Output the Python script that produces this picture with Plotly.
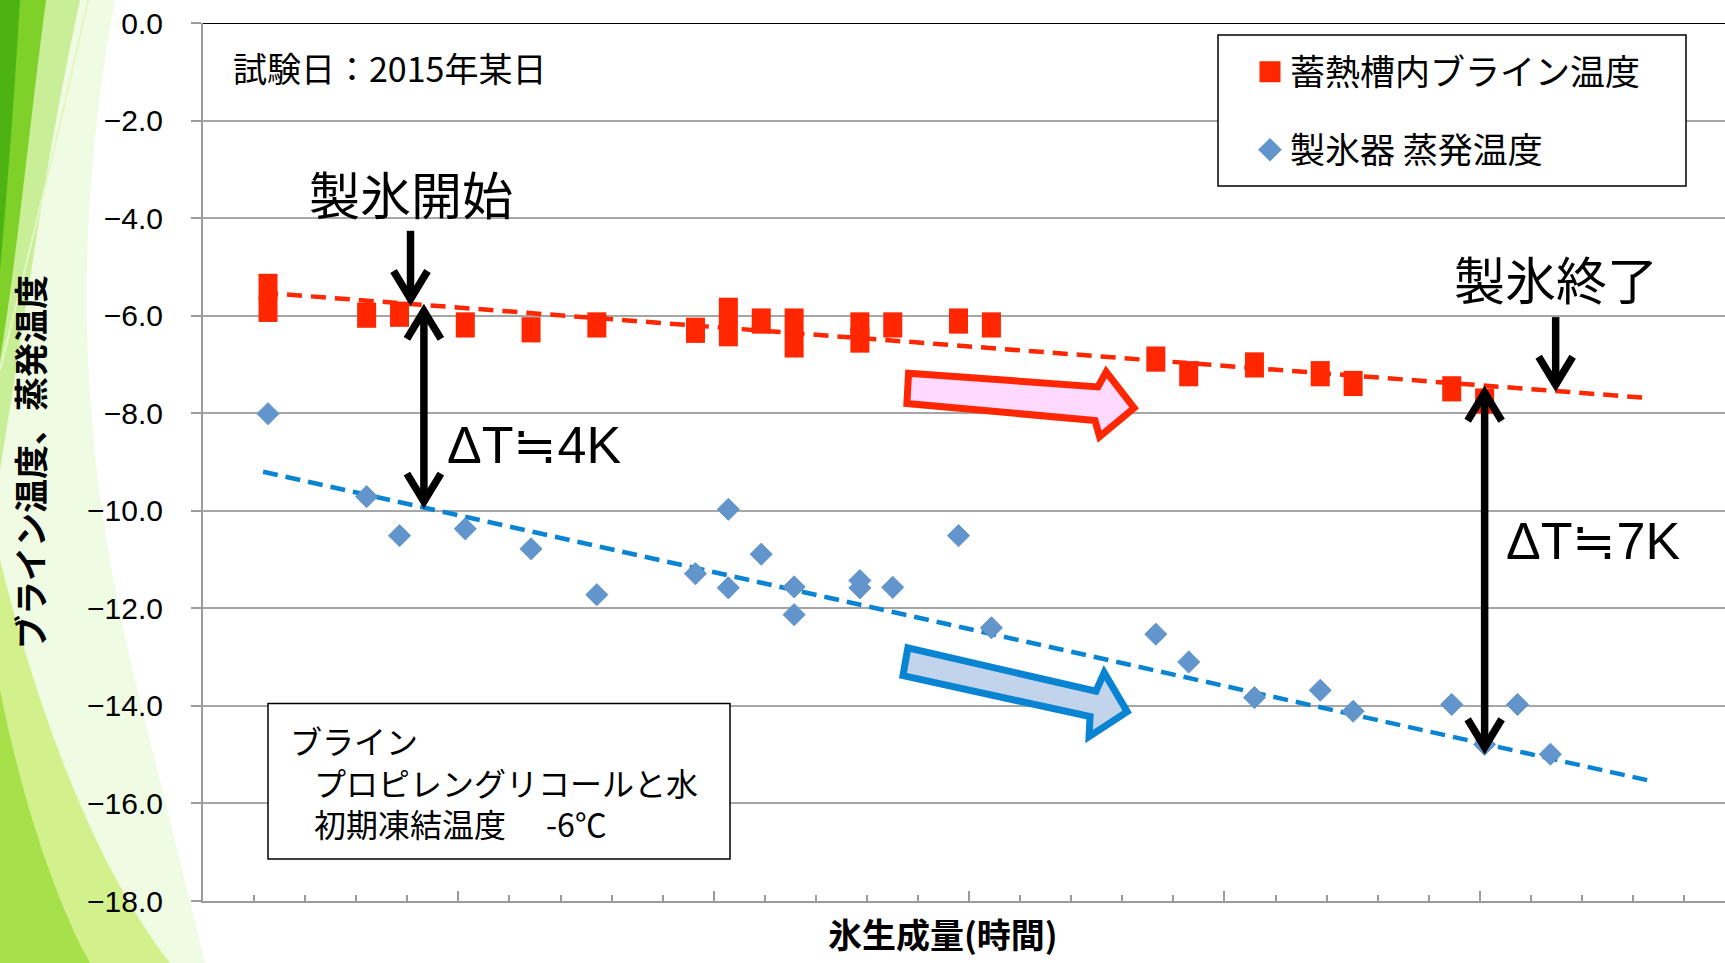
import plotly.graph_objects as go

# ---- data -------------------------------------------------------------
# x: logging step index along the ice-making run
brine_x = [0, 0, 3, 4, 6, 8, 10, 13, 14, 14, 15, 16, 16, 18, 18, 19, 21, 22,
           27, 28, 30, 32, 33, 36, 37]
brine_temp = [-5.40, -5.87, -5.99, -5.97, -6.19, -6.29, -6.19, -6.30, -5.89,
              -6.37, -6.11, -6.11, -6.60, -6.19, -6.50, -6.19, -6.11, -6.19,
              -6.89, -7.19, -7.01, -7.19, -7.39, -7.50, -7.75]

evap_x = [0, 3, 4, 6, 8, 10, 13, 14, 14, 15, 16, 16, 18, 18, 19, 21, 22,
          27, 28, 30, 32, 33, 36, 37, 38, 39]
evap_temp = [-8.01, -9.71, -10.51, -10.37, -10.78, -11.72, -11.29, -9.97,
             -11.58, -10.89, -11.56, -12.13, -11.43, -11.58, -11.57, -10.51,
             -12.40, -12.53, -13.10, -13.83, -13.68, -14.11, -13.97, -14.79,
             -13.97, -14.99]

# linear trend lines (end points)
trend_x = [-0.15, 42.0]
brine_trend = [-5.53, -7.69]
evap_trend = [-9.20, -15.53]

y_ticks = [0, -2, -4, -6, -8, -10, -12, -14, -16, -18]

brine_name = "蓄熱槽内ブライン温度"
evap_name = "製氷器 蒸発温度"

# ---- layout constants -------------------------------------------------
W, H = 1725, 963
ML, MR, MT, MB = 203, 0, 23, 62
X_RANGE = [-1.977, 44.31]
Y_RANGE = [-18, 0]
MINOR_STEP = 1.5532           # minor tick spacing in step units
PLOT_W = W - ML - MR
PLOT_H = H - MT - MB
DX = (X_RANGE[1] - X_RANGE[0]) / PLOT_W   # data units per pixel (x)
DY = (Y_RANGE[1] - Y_RANGE[0]) / PLOT_H   # data units per pixel (y)

RED = "#ff2600"
BLUE_MK = "#6195cb"
BLUE_LN = "#0984d3"
GRID = "#a6a6a6"
AXIS = "#9b9b9b"
CJK = "Noto Sans CJK JP"
LAT = "Liberation Sans, Noto Sans CJK JP"


def paper(px, py):
    return (px - ML) / PLOT_W, 1 - (py - MT) / PLOT_H


def paper_path(cmds):
    out = []
    for c, pts in cmds:
        coords = " ".join("%.5f,%.5f" % paper(*p) for p in pts)
        out.append(c + coords)
    return " ".join(out) + " Z"


fig = go.Figure()

# ---- trend lines ------------------------------------------------------
fig.add_trace(go.Scatter(x=trend_x, y=brine_trend, mode="lines",
                         line=dict(color=RED, width=4.5, dash="15px,9px"),
                         showlegend=False, hoverinfo="skip"))
fig.add_trace(go.Scatter(x=trend_x, y=evap_trend, mode="lines",
                         line=dict(color=BLUE_LN, width=4.5, dash="15px,8px"),
                         showlegend=False, hoverinfo="skip"))

# ---- measured points --------------------------------------------------
# brine readings drawn as upright blocks (vertical bar symbol, thick stroke)
fig.add_trace(go.Scatter(x=brine_x, y=brine_temp, mode="markers", name=brine_name,
                         legendgroup="brine", showlegend=False,
                         marker=dict(symbol="line-ns", size=18, color=RED,
                                     line=dict(color=RED, width=19))))
fig.add_trace(go.Scatter(x=evap_x, y=evap_temp, mode="markers", name=evap_name,
                         legendgroup="evap", showlegend=False,
                         marker=dict(symbol="diamond", size=17, color=BLUE_MK,
                                     line=dict(color=BLUE_MK, width=1))))

# legend entries
fig.add_trace(go.Scatter(x=[None], y=[None], mode="markers", name=brine_name,
                         legendgroup="brine", legend="legend",
                         marker=dict(symbol="square", size=16, color=RED,
                                     line=dict(color=RED, width=5))))
fig.add_trace(go.Scatter(x=[None], y=[None], mode="markers", name=evap_name,
                         legendgroup="evap", legend="legend2",
                         marker=dict(symbol="diamond", size=16, color=BLUE_MK,
                                     line=dict(color=BLUE_MK, width=2))))

shapes = []

# ---- left-side green backdrop ----------------------------------------
bg_layers = [
    ("#f0fbe4", [("M", [(0, 0)]), ("L", [(115, 0)]),
                 ("C", [(60, 300), (95, 520), (140, 700)]),
                 ("C", [(170, 820), (190, 900), (205, 963)]), ("L", [(0, 963)])]),
    ("#c9ee98", [("M", [(0, 0)]), ("L", [(80, 0)]),
                 ("C", [(45, 160), (28, 300), (0, 470)])]),
    ("#7fd12a", [("M", [(0, 0)]), ("L", [(46, 0)]),
                 ("C", [(30, 120), (18, 250), (0, 360)])]),
    ("#4cb312", [("M", [(0, 0)]), ("L", [(20, 0)]),
                 ("C", [(14, 100), (8, 180), (0, 270)])]),
    ("#d2f08c", [("M", [(0, 560)]), ("C", [(35, 700), (90, 860), (170, 963)]),
                 ("L", [(0, 963)])]),
    ("#a6e04a", [("M", [(0, 690)]), ("C", [(22, 800), (55, 900), (90, 963)]),
                 ("L", [(0, 963)])]),
]
for col, cmds in bg_layers:
    shapes.append(dict(type="path", xref="paper", yref="paper", layer="below",
                       path=paper_path(cmds), fillcolor=col,
                       line=dict(width=0)))
line_path = paper_path([("M", [(88, 0)]), ("C", [(62, 120), (30, 250), (0, 370)])])[:-2]
shapes.append(dict(type="path", xref="paper", yref="paper", layer="below",
                   path=line_path, line=dict(color="#e2f8c2", width=2)))

# top border line at 0.0
shapes.append(dict(type="line", xref="paper", yref="y", x0=0, x1=1, y0=0, y1=0,
                   line=dict(color="black", width=2)))


# ---- vertical arrows with open heads ---------------------------------
def chevron(x, y_tip, pointing_down):
    s = 1 if pointing_down else -1          # +1: head points to lower values
    back = 5 * DY
    tip = y_tip + s * back
    wy = y_tip + s * 33 * DY
    return dict(type="path", xref="x", yref="y",
                path="M%.4f,%.4f L%.4f,%.4f L%.4f,%.4f" % (
                    x - 17 * DX, wy, x, tip, x + 17 * DX, wy),
                line=dict(color="black", width=7.5))


def v_arrow(x, y_start, y_end, double=False):
    down = y_end < y_start
    s = 1 if down else -1
    y0 = y_start + (-s * 4 * DY if double else 0)
    y1 = y_end + s * 4 * DY
    out = [dict(type="line", xref="x", yref="y", x0=x, x1=x, y0=y0, y1=y1,
                line=dict(color="black", width=7.5)),
           chevron(x, y_end, down)]
    if double:
        out.append(chevron(x, y_start, not down))
    return out


shapes += v_arrow(4.334, -4.26, -5.76)               # 製氷開始
shapes += v_arrow(4.741, -5.80, -9.915, double=True)  # ΔT≒4K
shapes += v_arrow(37.0, -7.477, -14.95, double=True)  # ΔT≒7K
shapes += v_arrow(39.16, -6.03, -7.52)               # 製氷終了


# ---- block arrows showing the trend direction -------------------------
def poly(pts):
    return "M" + " L".join("%.3f,%.3f" % p for p in pts) + " Z"


red_block = [(19.48, -7.18), (25.24, -7.46), (25.49, -7.15), (26.34, -7.89),
             (25.29, -8.48), (25.15, -8.15), (19.43, -7.80)]
blue_block = [(19.46, -12.81), (25.18, -13.70), (25.43, -13.32), (26.13, -14.12),
              (24.97, -14.63), (25.00, -14.22), (19.31, -13.38)]
shapes.append(dict(type="path", xref="x", yref="y", path=poly(red_block),
                   fillcolor="#ffd9ff", line=dict(color=RED, width=7)))
shapes.append(dict(type="path", xref="x", yref="y", path=poly(blue_block),
                   fillcolor="#c2d4ec", line=dict(color=BLUE_LN, width=7)))

# ---- brine note box and legend frame ----------------------------------
shapes.append(dict(type="rect", xref="x", yref="y", x0=0.0, x1=14.05,
                   y0=-13.95, y1=-17.14, fillcolor="white",
                   line=dict(color="black", width=1.5)))
lx0, ly0 = paper(1218, 35)
lx1, ly1 = paper(1686, 186)
shapes.append(dict(type="rect", xref="paper", yref="paper", x0=lx0, x1=lx1,
                   y0=ly1, y1=ly0, fillcolor="white", layer="above",
                   line=dict(color="black", width=1.5)))

IND = "\u2002\u2005"
annotations = [
    dict(x=-1.125, y=-0.92, text="試験日：2015年某日", xanchor="left",
         font=dict(size=34, family=CJK, color="black")),
    dict(x=4.334, y=-3.485, text="製氷開始", xanchor="center",
         font=dict(size=51, family=CJK, color="black")),
    dict(x=39.16, y=-5.22, text="製氷終了", xanchor="center",
         font=dict(size=51, family=CJK, color="black")),
    dict(x=5.383, y=-8.651, text="ΔT≒4K", xanchor="left",
         font=dict(size=52, family=LAT, color="black")),
    dict(x=37.59, y=-10.62, text="ΔT≒7K", xanchor="left",
         font=dict(size=52, family=LAT, color="black")),
    dict(x=0.608, y=-15.56, xanchor="left", align="left",
         text="ブライン<br>" + IND + "プロピレングリコールと水<br>"
              + IND + "初期凍結温度" + IND + "\u2002-6℃",
         font=dict(size=32, family=CJK, color="black")),
]
for a in annotations:
    a.update(xref="x", yref="y", showarrow=False, yanchor="middle")

# x-axis caption, centred under the measured span of the axis
annotations.append(dict(x=20.53, xref="x", y=1 - (934 - MT) / PLOT_H, yref="paper",
                        text="氷生成量(時間)", showarrow=False,
                        xanchor="center", yanchor="middle",
                        font=dict(size=34, family=CJK, color="black", weight="bold")))

lg1_x, lg1_y = paper(1250, 72)
lg2_x, lg2_y = paper(1250, 150)
legend_common = dict(xanchor="left", yanchor="middle", bgcolor="rgba(0,0,0,0)",
                     borderwidth=0, font=dict(size=35, family=CJK, color="black"))

fig.update_layout(
    width=W, height=H,
    margin=dict(l=ML, r=MR, t=MT, b=MB, pad=0),
    paper_bgcolor="white", plot_bgcolor="white",
    showlegend=True,
    legend=dict(x=lg1_x, y=lg1_y, **legend_common),
    legend2=dict(x=lg2_x, y=lg2_y, **legend_common),
    shapes=shapes,
    annotations=annotations,
    xaxis=dict(range=X_RANGE, showgrid=False, zeroline=False,
               showline=True, linecolor=AXIS, linewidth=2,
               showticklabels=False, ticks="inside", ticklen=10, tickwidth=1.5,
               tickcolor=AXIS, tick0=X_RANGE[0], dtick=5 * MINOR_STEP,
               minor=dict(ticks="inside", ticklen=6, tickwidth=1.5, tickcolor=AXIS,
                          tick0=X_RANGE[0], dtick=MINOR_STEP, showgrid=False),
               automargin=False),
    yaxis=dict(range=Y_RANGE, tickvals=y_ticks, tickformat=".1f",
               showgrid=True, gridcolor=GRID, gridwidth=1.5, zeroline=False,
               showline=True, linecolor=AXIS, linewidth=2,
               ticks="outside", ticklen=10, tickwidth=1.5, tickcolor=AXIS,
               ticklabelstandoff=22,
               tickfont=dict(size=30, family="Liberation Sans", color="black"),
               title=dict(text="ブライン温度、蒸発温度", standoff=32,
                          font=dict(size=34, family=CJK, color="black", weight="bold")),
               automargin=False),
)

fig.write_html("out.html")
